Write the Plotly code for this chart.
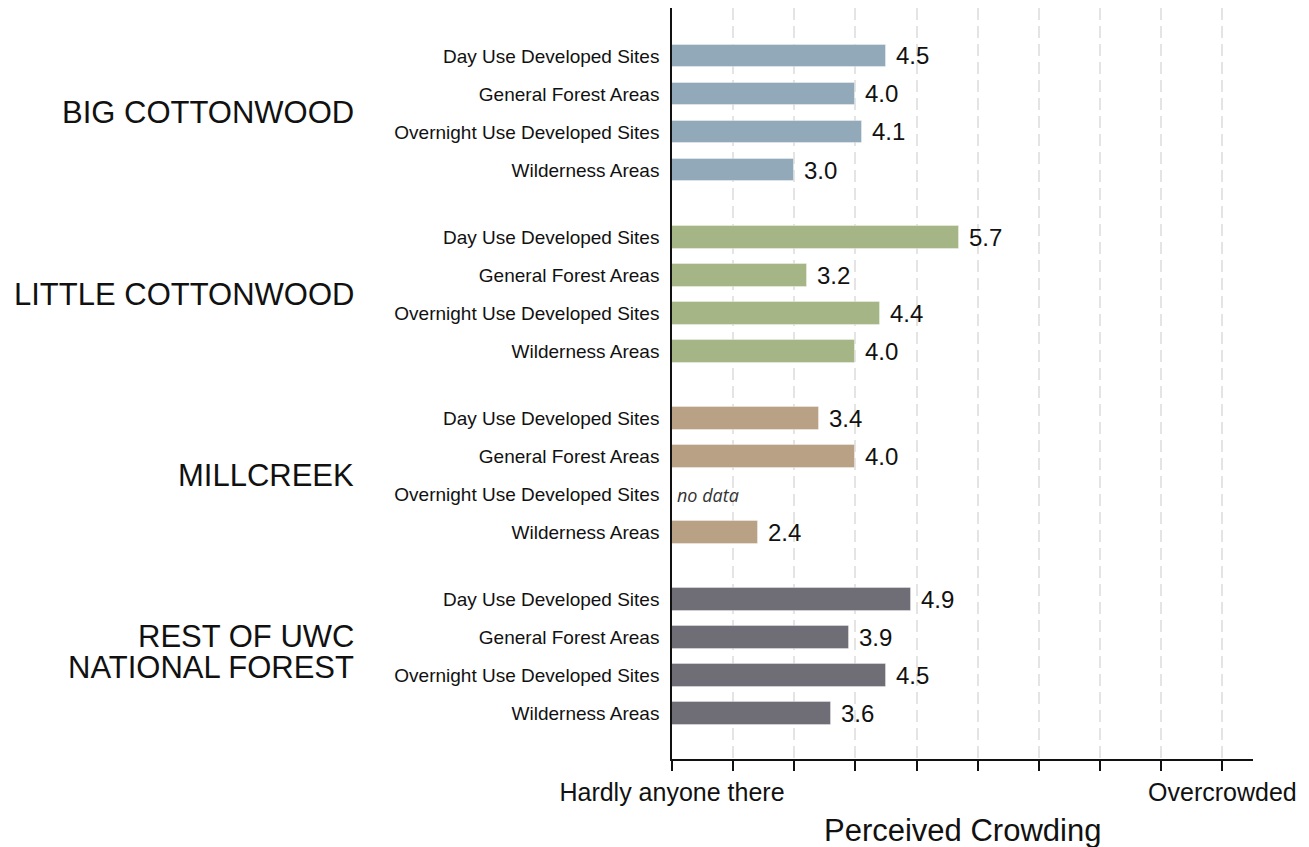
import plotly.graph_objects as go

groups = ["BIG COTTONWOOD", "LITTLE COTTONWOOD", "MILLCREEK", "REST OF UWC<br>NATIONAL FOREST"]
categories = ["Day Use Developed Sites", "General Forest Areas",
              "Overnight Use Developed Sites", "Wilderness Areas"]
big_cottonwood = [4.5, 4.0, 4.1, 3.0]
little_cottonwood = [5.7, 3.2, 4.4, 4.0]
millcreek = [3.4, 4.0, None, 2.4]
rest_of_uwc = [4.9, 3.9, 4.5, 3.6]
series = [big_cottonwood, little_cottonwood, millcreek, rest_of_uwc]
colors = ["#92A9BA", "#A5B585", "#B9A185", "#6F6E76"]
x_ticks = list(range(1, 11))
x_ticktext = ["Hardly anyone there"] + [""] * 8 + ["Overcrowded"]

GROUP_STEP = 4.77
FONT = "Liberation Sans, Arial, sans-serif"
LINE_GAP = 31

fig = go.Figure()
annotations = []
tickvals, ticktext = [], []
for g, (name, vals, col) in enumerate(zip(groups, series, colors)):
    ys = [g * GROUP_STEP + i for i in range(len(categories))]
    tickvals += ys
    ticktext += categories
    xs = [v if v is not None else 0 for v in vals]
    fig.add_trace(go.Bar(
        x=xs, y=ys, orientation="h", width=0.6,
        marker=dict(color=col, line=dict(color="rgba(255,255,255,0.35)", width=1)),
        hoverinfo="skip", showlegend=False,
    ))
    for y, v in zip(ys, vals):
        if v is None:
            annotations.append(dict(
                x=1, y=y, xref="x", yref="y", text="<i>no data</i>", showarrow=False,
                xanchor="left", yanchor="middle", xshift=3,
                font=dict(family="Open Sans, sans-serif", size=18, color="#333"),
            ))
        else:
            annotations.append(dict(
                x=v, y=y, xref="x", yref="y", text=f"{v:.1f}", showarrow=False,
                xanchor="left", yanchor="middle", xshift=8,
                font=dict(family=FONT, size=24, color="#111"),
            ))
    lines = name.split("<br>")
    n = len(lines)
    for i, line in enumerate(lines):
        off = (i - (n - 1) / 2) * LINE_GAP + (-4.5 if n > 1 else 0)
        annotations.append(dict(
            x=0, y=g * GROUP_STEP + 1.5, xref="paper", yref="y", text=line,
            showarrow=False, xanchor="right", yanchor="middle", xshift=-316,
            yshift=-off, font=dict(family=FONT, size=31, color="#111"),
        ))

annotations.append(dict(
    x=0.5, y=0, xref="paper", yref="paper", text="Perceived Crowding",
    showarrow=False, xanchor="center", yanchor="middle", yshift=-71,
    font=dict(family=FONT, size=31, color="#111"),
))

fig.update_layout(
    width=1301, height=839,
    margin=dict(l=664, r=56, t=0, b=88),
    paper_bgcolor="white", plot_bgcolor="white",
    bargap=0, annotations=annotations,
    xaxis=dict(
        range=[1, 10.5], tickvals=x_ticks, ticktext=x_ticktext,
        ticks="outside", ticklen=10, tickwidth=1.5, tickcolor="#111",
        showline=True, linecolor="#111", linewidth=1.5,
        showgrid=True, gridcolor="#e4e4e4", griddash="12px,6px", gridwidth=1.5,
        zeroline=False, ticklabelstandoff=0,
        tickfont=dict(family=FONT, size=25, color="#111"),
    ),
    yaxis=dict(
        range=[18.5, -1.263], tickvals=tickvals, ticktext=ticktext,
        ticks="outside", ticklen=7, tickcolor="rgba(0,0,0,0)",
        showline=True, linecolor="#111", linewidth=1.5,
        showgrid=False, zeroline=False,
        tickfont=dict(family=FONT, size=19, color="#111"),
    ),
)

fig.write_html("out.html")
